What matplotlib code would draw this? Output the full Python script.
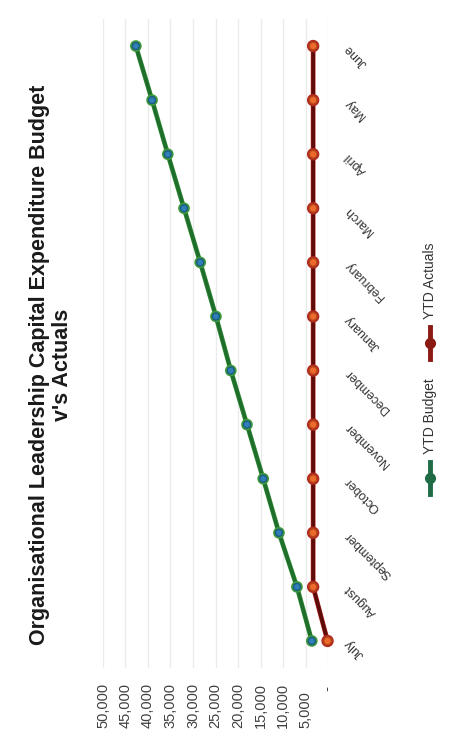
import matplotlib
matplotlib.use("Agg")
import matplotlib.pyplot as plt
import matplotlib.patheffects as pe
from matplotlib.lines import Line2D

plt.rcParams['font.family'] = ['Liberation Sans', 'DejaVu Sans']

# data
months = ["July", "August", "September", "October", "November", "December",
          "January", "February", "March", "April", "May", "June"]
ytd_budget = [3600, 6900, 10900, 14400, 18000, 21600,
              24900, 28400, 32000, 35600, 39100, 42700]
ytd_actuals = [100, 3300, 3300, 3300, 3300, 3300,
               3300, 3300, 3300, 3300, 3300, 3300]
value_ticks = [0, 5000, 10000, 15000, 20000, 25000, 30000, 35000, 40000, 45000, 50000]
value_labels = ["         -"] + ["{:,}".format(v) for v in value_ticks[1:]]

title = "Organisational Leadership Capital Expenditure Budget\nv's Actuals"

fig = plt.figure(figsize=(4.5, 7.5), dpi=100)
ax = fig.add_axes([103/450, 1-668/750, 225/450, 649/750])

pos = list(range(len(months)))

# budget: green line, blue markers
ax.plot(ytd_budget, pos, color="#1f6e2c", lw=2.6, zorder=3, clip_on=False,
        marker="o", ms=5, mfc="#2f80b8", mec="#1d5a82", mew=1,
        path_effects=[pe.Stroke(linewidth=3.4, foreground="#3c9a3c"), pe.Normal()])
# actuals: dark red line, orange markers
ax.plot(ytd_actuals, pos, color="#5e0b0b", lw=2.6, zorder=3, clip_on=False,
        marker="o", ms=5.5, mfc="#ec6a2c", mec="#b8461a", mew=1,
        path_effects=[pe.Stroke(linewidth=3.4, foreground="#b02a1e"), pe.Normal()])

ax.set_xlim(50000, 0)
ax.set_ylim(-0.5, len(months) - 0.5)

ax.set_xticks(value_ticks)
ax.set_xticklabels(value_labels, rotation=90, fontsize=10.5, color="#404040")
for lbl in ax.get_xticklabels():
    lbl.set_va("bottom")
ax.tick_params(axis="x", length=0, pad=43)

ax.set_yticks(pos)
ax.set_yticklabels([])
ax.tick_params(axis="y", length=0)
for p, m in zip(pos, months):
    ax.annotate(m, xy=(0, p), xytext=(19, 0), textcoords="offset pixels",
                rotation=135, rotation_mode="anchor", ha="right", va="center",
                fontsize=9, color="#333333", annotation_clip=False)

ax.grid(axis="x", color="#ebebeb", lw=1)
ax.grid(axis="y", visible=False)
for s in ax.spines.values():
    s.set_visible(False)

fig.text(51/450, 1-365/750, title, rotation=90, ha="center", va="center",
         fontsize=15.5, fontweight="bold", color="#1a1a1a", linespacing=1.1)

# legend drawn by hand, rotated like the rest of the chart
leg = [("YTD Budget", "#1e6b45", 478, 382), ("YTD Actuals", "#8b1a12", 343, 245)]
for name, col, ym, yt in leg:
    fig.add_artist(Line2D([430/450, 430/450], [1-(ym+16)/750, 1-(ym-16)/750],
                          color=col, lw=3.5, marker=None))
    fig.add_artist(Line2D([430/450], [1-ym/750], color=col, marker="o", ms=7,
                          lw=0))
    fig.text(430/450, 1-(ym-24)/750, name, rotation=90, ha="center", va="bottom",
             fontsize=10, color="#333333")

fig.savefig("out.png", dpi=100)
